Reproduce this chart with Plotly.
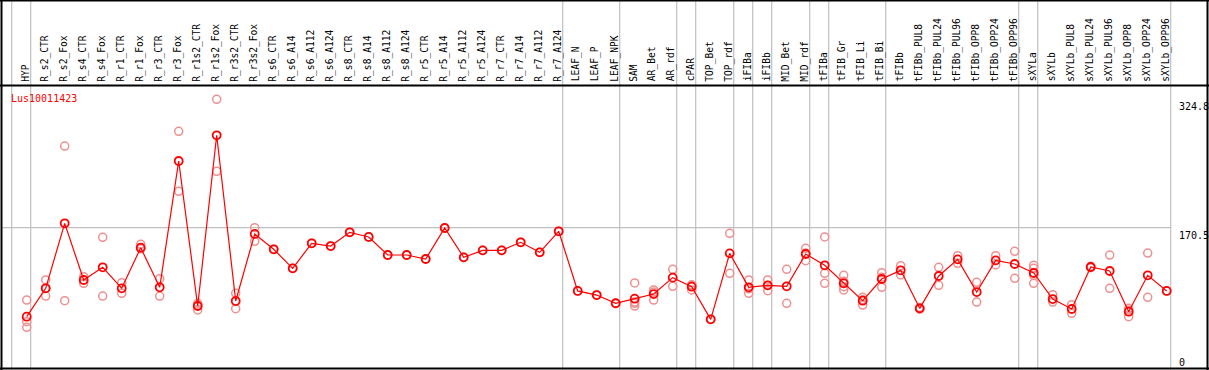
import plotly.graph_objects as go

W, H = 1209, 370

labels = ["HYP", "R_s2_CTR", "R_s2_Fox", "R_s4_CTR", "R_s4_Fox", "R_r1_CTR", "R_r1_Fox",
          "R_r3_CTR", "R_r3_Fox", "R_r1s2_CTR", "R_r1s2_Fox", "R_r3s2_CTR", "R_r3s2_Fox",
          "R_s6_CTR", "R_s6_A14", "R_s6_A112", "R_s6_A124", "R_s8_CTR", "R_s8_A14",
          "R_s8_A112", "R_s8_A124", "R_r5_CTR", "R_r5_A14", "R_r5_A112", "R_r5_A124",
          "R_r7_CTR", "R_r7_A14", "R_r7_A112", "R_r7_A124", "LEAF_N", "LEAF_P", "LEAF_NPK",
          "SAM", "AR_Bet", "AR_rdf", "cPAR", "TOP_Bet", "TOP_rdf", "iFIBa", "iFIBb",
          "MID_Bet", "MID_rdf", "tFIBa", "tFIB_Gr", "tFIB_Li", "tFIB_Bi", "tFIBb",
          "tFIBb_PUL8", "tFIBb_PUL24", "tFIBb_PUL96", "tFIBb_OPP8", "tFIBb_OPP24",
          "tFIBb_OPP96", "sXYLa", "sXYLb", "sXYLb_PUL8", "sXYLb_PUL24", "sXYLb_PUL96",
          "sXYLb_OPP8", "sXYLb_OPP24", "sXYLb_OPP96"]

means = [63.5, 97.6, 175.7, 107.6, 122.8, 97.6, 146.4, 98.8, 250.6, 76.3, 281.5, 82.3, 162.9,
         144.5, 121.6, 151.7, 148.4, 164.9, 159.3, 137.6, 137.6, 132.8, 170.1, 134.8, 143.2,
         143.2, 152.9, 140.8, 166.1, 94.4, 89.5, 79.6,
         85.1, 90.7, 110.4, 99.5, 60.3, 139.6, 98.8, 101.2, 100.0, 138.8, 125.2, 103.6, 82.7,
         108.8, 119.2, 73.5, 112.4, 132.4, 93.1, 131.2, 126.8, 116.0, 84.7, 72.7, 123.2,
         118.4, 69.5, 113.2, 94.4]

replicates = [
    [83.5, 57.5, 50.7], [107.6, 88.3, 97.6], [268.6, 82.7], [111.5, 103.6], [158.9, 88.3],
    [104.3, 91.6], [150.4, 145.0], [109.1, 88.3], [286.3, 214.2], [79.6, 71.5, 77.5],
    [324.8, 238.2], [91.6, 73.1], [170.5, 154.1],
    [144.5], [121.6], [151.7], [148.4], [164.9], [159.3], [137.6], [137.6], [132.8], [170.1],
    [134.8], [143.2], [143.2], [152.9], [140.8], [166.1], [94.4], [89.5], [79.6],
    [104.0, 79.6, 76.3, 81.0], [95.6, 83.5, 93.0], [120.4, 100.0], [102.0, 95.6, 101.0],
    [60.3], [163.7, 115.6], [107.6, 91.6, 97.0], [107.6, 94.7, 101.0], [120.4, 79.6],
    [145.7, 130.8, 140.0], [159.3, 115.6, 103.6], [113.2, 99.5, 95.6, 106.0],
    [86.8, 77.5, 83.8], [116.4, 98.8, 111.0], [124.8, 113.6], [73.5, 74.5, 72.5],
    [122.8, 101.2], [136.8, 127.6], [104.8, 81.1], [136.8, 125.6], [142.0, 109.6],
    [125.2, 121.6, 103.6, 113.0], [89.9, 81.0], [77.9, 67.5], [124.0, 122.4],
    [137.6, 97.6], [73.5, 63.5, 71.5], [140.0, 86.8], [94.4]]

group_sizes = [1, 28, 3, 3, 1, 2, 1, 1, 2, 1, 3, 7, 1, 7]
y_ticks = [0, 170.5, 324.8]
threshold = 170.5
gene = "Lus10011423"

# pixel geometry
step = 19.0
x_first = 26.7
xr = [-x_first / step, (W - x_first) / step]
y_px_per = 0.832
y0_px = 369.5
yr = [-(H - y0_px) / y_px_per, -(H - y0_px) / y_px_per + H / y_px_per]


def px2x(px):
    return (px - x_first) / step


idx = list(range(len(labels)))
rx, ry = [], []
for i, reps in enumerate(replicates):
    for v in reps:
        rx.append(i)
        ry.append(v)

fig = go.Figure()
fig.add_trace(go.Scatter(x=rx, y=ry, mode="markers",
                         marker=dict(symbol="circle-open", size=8, color="#EE9090",
                                     line=dict(width=1.5, color="#EE9090")),
                         hoverinfo="skip", showlegend=False))
fig.add_trace(go.Scatter(x=idx, y=means, mode="lines+markers",
                         line=dict(color="#FF0000", width=1.2),
                         marker=dict(symbol="circle-open", size=8, color="#FF0000",
                                     line=dict(width=1.8, color="#FF0000")),
                         text=labels, showlegend=False))

shapes = []
grey = "#C0C0C0"
seps = [-1]
acc = 0
for g in group_sizes:
    acc += g
    seps.append(acc - 1)
off = 4 / step
for s in seps:
    shapes.append(dict(type="line", xref="x", yref="paper", x0=s + off, x1=s + off,
                       y0=0, y1=1, line=dict(color=grey, width=1.2), layer="below"))
shapes.append(dict(type="line", xref="x", yref="y", x0=px2x(1), x1=seps[-1] + off,
                   y0=threshold, y1=threshold, line=dict(color=grey, width=1.2), layer="below"))


def py(p):
    return 1 - p / H


blk = dict(color="black", width=2)
shapes += [
    dict(type="line", xref="paper", yref="paper", x0=0, x1=1, y0=py(0.5), y1=py(0.5), line=blk),
    dict(type="line", xref="paper", yref="paper", x0=0, x1=1, y0=py(85.5), y1=py(85.5), line=blk),
    dict(type="line", xref="paper", yref="paper", x0=0, x1=1, y0=py(368.5), y1=py(368.5), line=blk),
    dict(type="line", xref="paper", yref="paper", x0=1.5 / W, x1=1.5 / W, y0=0, y1=1, line=blk),
    dict(type="line", xref="paper", yref="paper", x0=1207.5 / W, x1=1207.5 / W, y0=0, y1=1, line=blk),
]

font = "DejaVu Sans Mono"
ann = []
for i, lab in enumerate(labels):
    ann.append(dict(x=i, y=py(83.5), xref="x", yref="paper", text=lab, textangle=-90,
                    showarrow=False, xanchor="center", yanchor="bottom", xshift=-1.5,
                    font=dict(family=font, size=9.6, color="black")))
ann.append(dict(x=9 / W, y=py(91), xref="paper", yref="paper", text=gene, showarrow=False,
                xanchor="left", yanchor="top", font=dict(family=font, size=10, color="#FF0000")))
for t in y_ticks:
    ann.append(dict(x=1177 / W, y=t, xref="paper", yref="y", text=f"{t:g}", showarrow=False,
                    xanchor="left", yanchor="bottom" if t == 0 else "top",
                    font=dict(family=font, size=10, color="black")))

fig.update_layout(
    width=W, height=H, margin=dict(l=0, r=0, t=0, b=0),
    paper_bgcolor="white", plot_bgcolor="white",
    xaxis=dict(range=xr, visible=False, showgrid=False, zeroline=False),
    yaxis=dict(range=yr, visible=False, showgrid=False, zeroline=False),
    shapes=shapes, annotations=ann, showlegend=False,
)
fig.write_html("out.html", config={"displayModeBar": False},
               post_script="document.body.style.margin='0';")
